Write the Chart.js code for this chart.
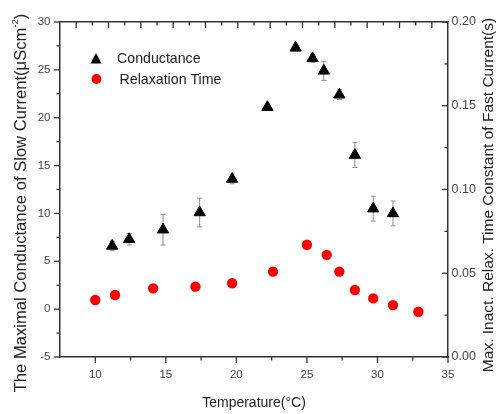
<!DOCTYPE html>
<html>
<head>
<meta charset="utf-8">
<script src="https://cdn.jsdelivr.net/npm/chart.js@4/dist/chart.umd.min.js"></script>
<style>
  body { margin: 0; background: #fff; }
  canvas { display: block; }
</style>
</head>
<body>
<canvas id="tempChart" width="496" height="414"></canvas>
<script>
// conductance of slow current (left axis)
const condTemp  = [11.2, 12.4, 14.8, 17.4, 19.7, 22.2, 24.2, 25.4, 26.2, 27.3, 28.4, 29.7, 31.1];
const condValue = [6.6, 7.3, 8.3, 10.1, 13.6, 21.1, 27.3, 26.2, 24.9, 22.4, 16.1, 10.5, 10.0];
const condError = [0.5, 0.6, 1.6, 1.5, 0.5, 0.2, 0.3, 0.4, 1.0, 0.5, 1.3, 1.3, 1.3];

// relaxation time constant of fast current (right axis)
const relaxTemp  = [10.0, 11.4, 14.1, 17.1, 19.7, 22.6, 25.0, 26.4, 27.3, 28.4, 29.7, 31.1, 32.9];
const relaxValue = [0.034, 0.037, 0.041, 0.042, 0.044, 0.051, 0.067, 0.061, 0.051, 0.040, 0.035, 0.031, 0.027];
const relaxError = [0.002, 0.001, 0.002, 0.001, 0.001, 0.001, 0.002, 0.001, 0.001, 0.001, 0.002, 0.001, 0.001];

const seriesNames = ["Conductance", "Relaxation Time"];
const xTitle = "Temperature(\u00B0C)";
const leftTitle = "The Maximal Conductance of Slow Current(\u03BCScm";
const rightTitle = "Max. Inact. Relax. Time Constant of Fast Current(s)";

const FONT = '"Liberation Sans", Arial, sans-serif';

function points(xs, ys) {
    const out = [];
    for (let i = 0; i < xs.length; i++) {
        out.push({x: xs[i], y: ys[i]});
    }
    return out;
}

function drawErrors(ctx, xs, ys, xv, yv, err, color) {
    ctx.save();
    ctx.strokeStyle = color;
    ctx.lineWidth = 1;
    for (let i = 0; i < xv.length; i++) {
        const px = xs.getPixelForValue(xv[i]);
        const top = ys.getPixelForValue(yv[i] + err[i]);
        const bot = ys.getPixelForValue(yv[i] - err[i]);
        ctx.beginPath();
        ctx.moveTo(px, top); ctx.lineTo(px, bot);
        ctx.moveTo(px - 2.5, top); ctx.lineTo(px + 2.5, top);
        ctx.moveTo(px - 2.5, bot); ctx.lineTo(px + 2.5, bot);
        ctx.stroke();
    }
    ctx.restore();
}

// tick marks: outward on left/bottom, inward on right/top
const tickSets = [
    {id: 'x',  side: 'bottom', dir: 1,  start: 10, step: 2.5,   n: 11, every: 2},
    {id: 'y',  side: 'left',   dir: 1,  start: -5, step: 2.5,   n: 15, every: 2},
    {id: 'y2', side: 'right',  dir: -1, start: 0,  step: 0.025, n: 9,  every: 2},
    {id: 'x2', side: 'top',    dir: -1, start: 1,  step: 1,     n: 23, every: 2}
];

function drawTicks(chart) {
    const ctx = chart.ctx;
    const area = chart.chartArea;
    ctx.save();
    ctx.strokeStyle = '#333';
    ctx.lineWidth = 1.3;
    tickSets.forEach(function (t) {
        const scale = chart.scales[t.id];
        for (let i = 0; i < t.n; i++) {
            const p = scale.getPixelForValue(t.start + i * t.step);
            const len = (i % t.every === 0) ? 6 : 3.5;
            ctx.beginPath();
            if (t.side === 'bottom') { ctx.moveTo(p, area.bottom); ctx.lineTo(p, area.bottom + t.dir * len); }
            if (t.side === 'top')    { ctx.moveTo(p, area.top);    ctx.lineTo(p, area.top - t.dir * len); }
            if (t.side === 'left')   { ctx.moveTo(area.left, p);   ctx.lineTo(area.left - t.dir * len, p); }
            if (t.side === 'right')  { ctx.moveTo(area.right, p);  ctx.lineTo(area.right + t.dir * len, p); }
            ctx.stroke();
        }
    });
    ctx.restore();
}

function drawTitles(chart) {
    const ctx = chart.ctx;
    ctx.save();
    ctx.fillStyle = '#222';
    ctx.textBaseline = 'middle';

    // left title with superscript -2
    ctx.font = '16.6px ' + FONT;
    const w1 = ctx.measureText(leftTitle).width;
    ctx.font = '9.5px ' + FONT;
    const w2 = ctx.measureText('-2').width;
    ctx.font = '16.6px ' + FONT;
    const w3 = ctx.measureText(')').width;
    const total = w1 + w2 + w3;
    ctx.translate(21, 203);
    ctx.rotate(-Math.PI / 2);
    ctx.textAlign = 'left';
    ctx.fillText(leftTitle, -total / 2, 0);
    ctx.font = '9.5px ' + FONT;
    ctx.fillText('-2', -total / 2 + w1, -5.5);
    ctx.font = '16.6px ' + FONT;
    ctx.fillText(')', -total / 2 + w1 + w2, 0);
    ctx.restore();

    // right title, reads bottom to top
    ctx.save();
    ctx.fillStyle = '#222';
    ctx.textBaseline = 'middle';
    ctx.textAlign = 'center';
    ctx.font = '15.5px ' + FONT;
    ctx.translate(489, 195);
    ctx.rotate(-Math.PI / 2);
    ctx.fillText(rightTitle, 0, 0);
    ctx.restore();
}

function drawLegend(chart) {
    const ctx = chart.ctx;
    ctx.save();
    // triangle
    ctx.fillStyle = '#000';
    ctx.beginPath();
    ctx.moveTo(96, 53);
    ctx.lineTo(101.5, 63.5);
    ctx.lineTo(90.5, 63.5);
    ctx.closePath();
    ctx.fill();
    // circle
    ctx.fillStyle = '#ff0000';
    ctx.beginPath();
    ctx.arc(96.5, 79, 5, 0, Math.PI * 2);
    ctx.fill();

    ctx.fillStyle = '#222';
    ctx.font = '14.2px ' + FONT;
    ctx.textBaseline = 'middle';
    ctx.fillText(seriesNames[0], 117, 59.5);
    ctx.fillText(seriesNames[1], 119.5, 80);
    ctx.restore();
}

const decor = {
    id: 'decor',
    beforeDatasetsDraw(chart) {
        drawErrors(chart.ctx, chart.scales.x, chart.scales.y, condTemp, condValue, condError, '#8c8c8c');
        drawErrors(chart.ctx, chart.scales.x, chart.scales.y2, relaxTemp, relaxValue, relaxError, '#f28b8b');
    },
    afterDraw(chart) {
        drawTicks(chart);
        drawTitles(chart);
        drawLegend(chart);
    }
};

var ctx = document.getElementById("tempChart");
var tempChart = new Chart(ctx, {
    type: 'scatter',
    data: {
        datasets: [{
            label: seriesNames[0],
            data: points(condTemp, condValue),
            yAxisID: 'y',
            pointStyle: 'triangle',
            pointRadius: 6.5,
            backgroundColor: '#000',
            borderColor: '#000',
            borderWidth: 1
        }, {
            label: seriesNames[1],
            data: points(relaxTemp, relaxValue),
            yAxisID: 'y2',
            pointStyle: 'circle',
            pointRadius: 5.2,
            backgroundColor: '#ff0000',
            borderColor: '#ff0000',
            borderWidth: 0
        }]
    },
    options: {
        responsive: false,
        animation: false,
        layout: {padding: 0},
        plugins: {
            legend: {display: false},
            tooltip: {enabled: false}
        },
        scales: {
            x: {
                type: 'linear',
                position: 'bottom',
                min: 7.5,
                max: 35,
                afterFit: function (s) { s.height = 57; },
                ticks: {stepSize: 5, includeBounds: false, padding: 11, color: '#444', font: {family: FONT, size: 11.5}},
                grid: {drawOnChartArea: false, drawTicks: false},
                border: {color: '#333', width: 1.5},
                title: {display: true, text: xTitle, color: '#222', font: {family: FONT, size: 14}, padding: {top: 0, bottom: 2}}
            },
            x2: {
                type: 'linear',
                position: 'top',
                min: 0,
                max: 24,
                afterFit: function (s) { s.height = 22; },
                ticks: {display: false},
                grid: {drawOnChartArea: false, drawTicks: false},
                border: {color: '#333', width: 1.5}
            },
            y: {
                type: 'linear',
                position: 'left',
                min: -5,
                max: 30,
                afterFit: function (s) { s.width = 60; },
                ticks: {stepSize: 5, padding: 9.5, color: '#444', font: {family: FONT, size: 11.5}},
                grid: {drawOnChartArea: false, drawTicks: false},
                border: {color: '#333', width: 1.5}
            },
            y2: {
                type: 'linear',
                position: 'right',
                min: 0,
                max: 0.2,
                afterFit: function (s) { s.width = 48; },
                ticks: {
                    stepSize: 0.05, padding: 3.5, color: '#444', font: {family: FONT, size: 12.5},
                    callback: function (v) { return v.toFixed(2); }
                },
                grid: {drawOnChartArea: false, drawTicks: false},
                border: {color: '#333', width: 1.5}
            }
        }
    },
    plugins: [decor]
});
</script>
</body>
</html>
